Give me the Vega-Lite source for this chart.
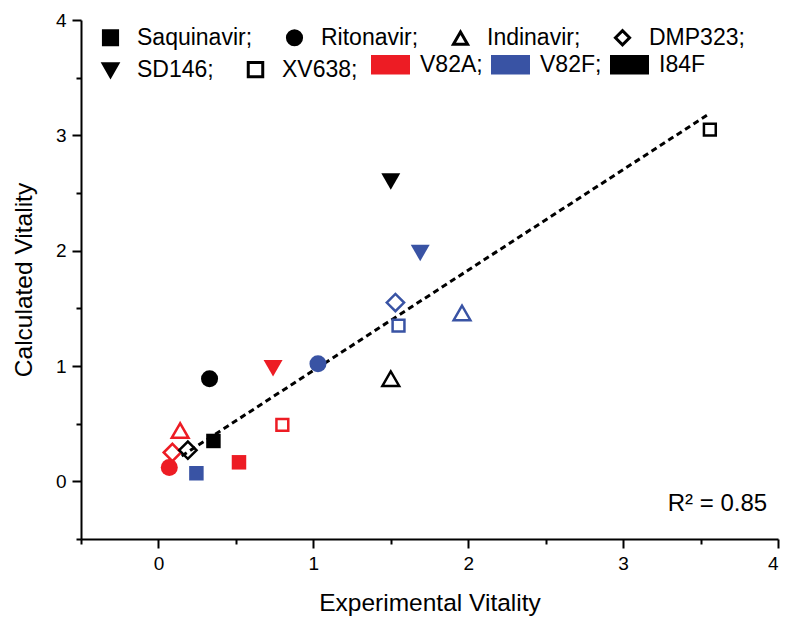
{
  "$schema": "https://vega.github.io/schema/vega-lite/v6.json",
  "width": 697,
  "height": 519,
  "autosize": {"type": "none"},
  "padding": {"left": 81, "top": 20, "right": 9, "bottom": 81},
  "background": "white",
  "config": {
    "view": {"stroke": null},
    "font": "Liberation Sans",
    "axis": {"domainColor": "black", "domainWidth": 2, "tickColor": "black", "tickWidth": 2, "labelColor": "black", "titleColor": "black", "grid": false, "labelFont": "Liberation Sans", "titleFont": "Liberation Sans", "titleFontWeight": "normal"},
    "legend": {"labelFont": "Liberation Sans", "labelColor": "black", "symbolStrokeWidth": 3}
  },
  "datasets": {
    "pts": [
      {"x": 0.07, "y": 0.12, "drug": "Ritonavir", "mutant": "V82A"},
      {"x": 0.09, "y": 0.25, "drug": "DMP323", "mutant": "V82A"},
      {"x": 0.14, "y": 0.44, "drug": "Indinavir", "mutant": "V82A"},
      {"x": 0.52, "y": 0.165, "drug": "Saquinavir", "mutant": "V82A"},
      {"x": 0.80, "y": 0.49, "drug": "XV638", "mutant": "V82A"},
      {"x": 0.74, "y": 0.98, "drug": "SD146", "mutant": "V82A"},
      {"x": 0.245, "y": 0.07, "drug": "Saquinavir", "mutant": "V82F"},
      {"x": 1.03, "y": 1.02, "drug": "Ritonavir", "mutant": "V82F"},
      {"x": 1.69, "y": 1.98, "drug": "SD146", "mutant": "V82F"},
      {"x": 1.53, "y": 1.55, "drug": "DMP323", "mutant": "V82F"},
      {"x": 1.55, "y": 1.35, "drug": "XV638", "mutant": "V82F"},
      {"x": 1.96, "y": 1.46, "drug": "Indinavir", "mutant": "V82F"},
      {"x": 0.355, "y": 0.35, "drug": "Saquinavir", "mutant": "I84F"},
      {"x": 0.33, "y": 0.89, "drug": "Ritonavir", "mutant": "I84F"},
      {"x": 0.19, "y": 0.27, "drug": "DMP323", "mutant": "I84F"},
      {"x": 1.50, "y": 0.89, "drug": "Indinavir", "mutant": "I84F"},
      {"x": 1.50, "y": 2.60, "drug": "SD146", "mutant": "I84F"},
      {"x": 3.56, "y": 3.05, "drug": "XV638", "mutant": "I84F"}
    ],
    "fit": [
      {"x": 0.15, "y": 0.22},
      {"x": 3.56, "y": 3.19}
    ]
  },
  "layer": [
    {
      "data": {"name": "fit"},
      "mark": {"type": "line", "color": "black", "strokeWidth": 3, "strokeDash": [6, 4]},
      "encoding": {
        "x": {"field": "x", "type": "quantitative", "scale": {"domain": [-0.5, 4], "nice": false, "zero": false},
          "axis": {"orient": "bottom", "values": [0, 1, 2, 3, 4], "tickSize": 9, "labelFontSize": 19, "labelPadding": 6, "title": "Experimental Vitality", "titleFontSize": 24.5, "titlePadding": 18}},
        "y": {"field": "y", "type": "quantitative", "scale": {"domain": [-0.5, 4], "nice": false, "zero": false},
          "axis": {"orient": "left", "values": [0, 1, 2, 3, 4], "tickSize": 9, "labelFontSize": 19, "labelPadding": 6, "title": "Calculated Vitality", "titleFontSize": 24.5, "titlePadding": 19}}
      }
    },
    {
      "data": {"name": "fit"},
      "mark": {"type": "line", "opacity": 0},
      "encoding": {
        "x": {"field": "x", "type": "quantitative",
          "axis": {"orient": "bottom", "values": [-0.5, 0.5, 1.5, 2.5, 3.5], "tickSize": 5, "labels": false, "domain": false, "title": null}},
        "y": {"field": "y", "type": "quantitative",
          "axis": {"orient": "left", "values": [-0.5, 0.5, 1.5, 2.5, 3.5], "tickSize": 5, "labels": false, "domain": false, "title": null}}
      }
    },
    {
      "data": {"name": "pts"},
      "encoding": {
        "x": {"field": "x", "type": "quantitative", "axis": null},
        "y": {"field": "y", "type": "quantitative", "axis": null},
        "shape": {"field": "drug", "type": "nominal",
          "scale": {"domain": ["Saquinavir", "Ritonavir", "Indinavir", "DMP323", "SD146", "XV638"], "range": ["square", "circle", "triangle-up", "diamond", "triangle-down", "square"]},
          "legend": null},
        "color": {"field": "mutant", "type": "nominal",
          "scale": {"domain": ["V82A", "V82F", "I84F"], "range": ["#ED1C24", "#3953A4", "#000000"]}}
      },
      "layer": [
        {
          "transform": [{"filter": "indexof(['Saquinavir','Ritonavir','SD146'], datum.drug) >= 0"}],
          "mark": {"type": "point", "filled": true, "opacity": 1, "strokeWidth": 0},
          "encoding": {
            "color": {"field": "mutant", "type": "nominal",
              "legend": {"orient": "none", "legendX": 290, "legendY": 25, "direction": "horizontal", "title": null,
                "labelFontSize": 23, "labelOffset": 10, "columnPadding": 8,
                "symbolType": "M-1,-0.5H1V0.5H-1Z", "symbolSize": 1521, "symbolStrokeWidth": 0, "symbolOpacity": 1,
                "labelExpr": "datum.label == 'I84F' ? datum.label : datum.label + ';'"}},
            "size": {"condition": [
              {"test": "datum.drug == 'Ritonavir'", "value": 290},
              {"test": "datum.drug == 'SD146'", "value": 360}], "value": 210}
          }
        },
        {
          "transform": [{"filter": "indexof(['Indinavir','DMP323','XV638'], datum.drug) >= 0"}],
          "mark": {"type": "point", "filled": false, "opacity": 1, "strokeWidth": 2.5},
          "encoding": {
            "size": {"condition": [
              {"test": "datum.drug == 'DMP323'", "value": 300},
              {"test": "datum.drug == 'XV638'", "value": 140}], "value": 280}
          }
        }
      ]
    },
    {
      "data": {"name": "pts"},
      "transform": [{"filter": "indexof(['Saquinavir','Ritonavir','Indinavir','DMP323'], datum.drug) >= 0"}],
      "mark": {"type": "point", "filled": true, "opacity": 0, "strokeWidth": 3},
      "encoding": {
        "x": {"field": "x", "type": "quantitative", "axis": null},
        "y": {"field": "y", "type": "quantitative", "axis": null},
        "shape": {"field": "drug", "type": "nominal",
          "scale": {"domain": ["Saquinavir", "Ritonavir", "Indinavir", "DMP323"], "range": ["square", "circle", "triangle-up", "diamond"]},
          "legend": {"orient": "none", "legendX": 18, "legendY": 6, "direction": "horizontal", "columns": 4, "title": null,
            "labelFontSize": 23, "labelOffset": 15, "columnPadding": 28, "symbolSize": 200, "symbolOpacity": 1, "symbolStrokeWidth": 3,
            "labelExpr": "datum.label + ';'"}},
        "fill": {"field": "drug", "type": "nominal",
          "scale": {"domain": ["Saquinavir", "Ritonavir", "Indinavir", "DMP323"], "range": ["black", "black", "white", "white"]},
          "legend": {"orient": "none", "legendX": 18, "legendY": 6, "direction": "horizontal", "columns": 4, "title": null,
            "labelFontSize": 23, "labelOffset": 15, "columnPadding": 28, "symbolSize": 200, "symbolOpacity": 1, "symbolStrokeWidth": 3,
            "labelExpr": "datum.label + ';'"}},
        "stroke": {"field": "drug", "type": "nominal",
          "scale": {"domain": ["Saquinavir", "Ritonavir", "Indinavir", "DMP323"], "range": ["black", "black", "black", "black"]},
          "legend": {"orient": "none", "legendX": 18, "legendY": 6, "direction": "horizontal", "columns": 4, "title": null,
            "labelFontSize": 23, "labelOffset": 15, "columnPadding": 28, "symbolSize": 200, "symbolOpacity": 1, "symbolStrokeWidth": 3,
            "labelExpr": "datum.label + ';'"}}
      }
    },
    {
      "data": {"name": "pts"},
      "transform": [{"filter": "datum.drug == 'SD146' || datum.drug == 'XV638'"}],
      "mark": {"type": "point", "filled": true, "opacity": 0, "strokeWidth": 3},
      "encoding": {
        "x": {"field": "x", "type": "quantitative", "axis": null},
        "y": {"field": "y", "type": "quantitative", "axis": null},
        "shape": {"field": "drug", "type": "nominal",
          "scale": {"domain": ["SD146", "XV638"], "range": ["triangle-down", "square"]},
          "legend": {"orient": "none", "legendX": 18, "legendY": 38, "direction": "horizontal", "title": null,
            "labelFontSize": 23, "labelOffset": 15, "columnPadding": 28, "symbolSize": 210, "symbolOpacity": 1, "symbolStrokeWidth": 3,
            "labelExpr": "datum.label + ';'"}},
        "fill": {"field": "drug", "type": "nominal",
          "scale": {"domain": ["SD146", "XV638"], "range": ["black", "white"]},
          "legend": {"orient": "none", "legendX": 18, "legendY": 38, "direction": "horizontal", "title": null,
            "labelFontSize": 23, "labelOffset": 15, "columnPadding": 28, "symbolSize": 210, "symbolOpacity": 1, "symbolStrokeWidth": 3,
            "labelExpr": "datum.label + ';'"}},
        "stroke": {"field": "drug", "type": "nominal",
          "scale": {"domain": ["SD146", "XV638"], "range": ["black", "black"]},
          "legend": {"orient": "none", "legendX": 18, "legendY": 38, "direction": "horizontal", "title": null,
            "labelFontSize": 23, "labelOffset": 15, "columnPadding": 28, "symbolSize": 210, "symbolOpacity": 1, "symbolStrokeWidth": 3,
            "labelExpr": "datum.label + ';'"}}
      }
    },
    {
      "data": {"values": [{"label": "R² = 0.85"}]},
      "mark": {"type": "text", "align": "right", "baseline": "middle", "fontSize": 24, "color": "black", "font": "Liberation Sans"},
      "encoding": {
        "x": {"datum": 3.93, "type": "quantitative", "axis": null},
        "y": {"datum": -0.2, "type": "quantitative", "axis": null},
        "text": {"field": "label"}
      }
    }
  ],
  "resolve": {"axis": {"x": "independent", "y": "independent"}, "scale": {"shape": "independent", "fill": "independent", "stroke": "independent"}, "legend": {"shape": "independent", "fill": "independent", "stroke": "independent"}}
}
